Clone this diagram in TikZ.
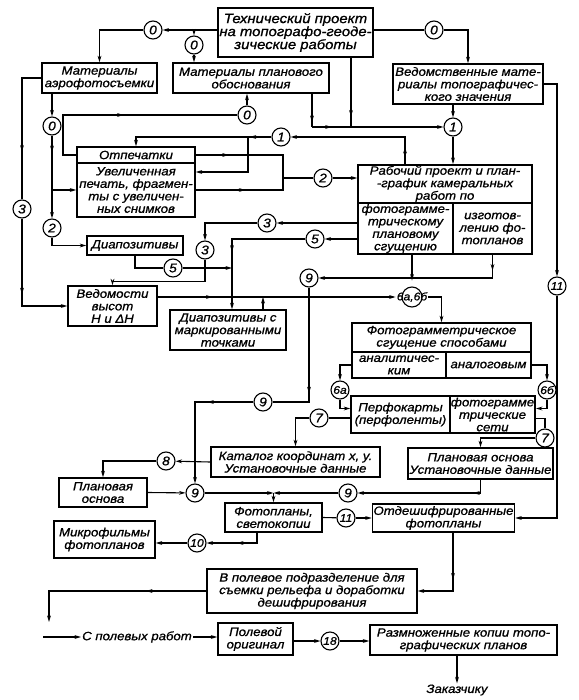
\documentclass[tikz,border=0pt]{standalone}
\usepackage{fontspec}
\setmainfont{Liberation Sans}[FakeStretch=1.1, FakeBold=1.0]
\usetikzlibrary{arrows.meta,decorations.markings}

\begin{document}
\begin{tikzpicture}[
    x=1pt, y=-1pt,
    font=\itshape\fontsize{12}{12.5}\selectfont,
    box/.style={rectangle, draw, line width=1.5pt, align=center, inner sep=1pt},
    num/.style={circle, draw, line width=1.1pt, minimum size=18pt, inner sep=0pt, font=\itshape\fontsize{12.5}{12.5}\selectfont},
    link/.style={line width=1.1pt},
    mid/.style={postaction={decorate, decoration={markings, mark=at position #1 with {\arrow{>}}}}},
    >={Stealth[length=6.5pt,width=3.8pt]}
]
\useasboundingbox (0,0) rectangle (578,700);

% boxes
\node[box, minimum width=155pt, minimum height=49pt, font=\itshape\fontsize{13.5}{13}\selectfont] (tech) at (295.5,32.5) {Технический проект\\на топографо-геоде-\\зические работы};
\node[box, minimum width=115pt, minimum height=30pt] (aero) at (99.5,78) {Материалы\\аэрофотосъемки};
\node[box, minimum width=156pt, minimum height=30pt] (plan) at (251,78) {Материалы планового\\обоснования};
\node[box, minimum width=150pt, minimum height=40pt] (vedm) at (468,84) {Ведомственные мате-\\риалы топографичес-\\кого значения};
\node[box, minimum width=118pt, minimum height=16pt] (prints) at (136,155) {Отпечатки};
\node[box, minimum width=118pt, minimum height=54pt] (enlarged) at (136,190) {Увеличенная\\печать, фрагмен-\\ты с увеличен-\\ных снимков};
\node[box, minimum width=174pt, minimum height=38pt] (work) at (445,184) {Рабочий проект и план-\\-график камеральных\\работ по};
\node[box, minimum width=95pt, minimum height=51pt] (workl) at (405.5,228.5) {фотограмме-\\трическому\\плановому\\сгущению};
\node[box, minimum width=79pt, minimum height=51pt] (workr) at (492.5,228.5) {изготов-\\лению фо-\\топланов};
\node[box, minimum width=96pt, minimum height=19pt] (diapos) at (135,245.5) {Диапозитивы};
\node[box, minimum width=89pt, minimum height=40pt] (heights) at (112.5,306) {Ведомости\\высот\\Н и ΔН};
\node[box, minimum width=116pt, minimum height=40pt] (marked) at (228,330) {Диапозитивы с\\маркированными\\точками};
\node[box, minimum width=179pt, minimum height=29pt] (phg) at (441.5,337.5) {Фотограмметрическое\\сгущение способами};
\node[box, minimum width=94pt, minimum height=26pt] (anal) at (399,365) {аналитичес-\\ким};
\node[box, minimum width=85pt, minimum height=26pt] (analog) at (488.5,365) {аналоговым};
\node[box, minimum width=99pt, minimum height=37pt] (perfo) at (400.5,414.5) {Перфокарты\\(перфоленты)};
\node[box, minimum width=85pt, minimum height=37pt] (nets) at (492.5,414.5) {фотограмме\\трические\\сети};
\node[box, minimum width=169pt, minimum height=30pt] (catalog) at (295.5,462) {Каталог координат х, у.\\Установочные данные};
\node[box, minimum width=145pt, minimum height=31pt] (planR) at (480.5,463.5) {Плановая основа\\Установочные данные};
\node[box, minimum width=88pt, minimum height=29pt] (planL) at (103,492.5) {Плановая\\основа};
\node[box, minimum width=97pt, minimum height=29pt] (photopl) at (273.5,517.5) {Фотопланы,\\светокопии};
\node[box, minimum width=137pt, minimum height=28pt] (decod) at (443.5,518) {Отдешифрированные\\фотопланы};
\node[box, minimum width=101pt, minimum height=37pt] (micro) at (104.5,539.5) {Микрофильмы\\фотопланов};
\node[box, minimum width=210pt, minimum height=44pt] (field) at (312,591) {В полевое подразделение для\\съемки рельефа и доработки\\дешифрирования};
\node[box, minimum width=75pt, minimum height=32pt] (fieldorig) at (255.5,639) {Полевой\\оригинал};
\node[box, minimum width=187pt, minimum height=30pt] (copies) at (463.5,640) {Размноженные копии топо-\\графических планов};
\node[inner sep=1pt] (fromfield) at (137,637) {С полевых работ};
\node[inner sep=1pt] (client) at (457,690) {Заказчику};

% circles
\node[num] (c0a) at (153,30) {0};
\node[num] (c0b) at (194,45) {0};
\node[num] (c0c) at (434,30) {0};
\node[num] (c0d) at (52,126) {0};
\node[num] (c0e) at (247,115) {0};
\node[num] (c1a) at (453,127) {1};
\node[num] (c1b) at (281,137) {1};
\node[num] (c2a) at (323,178) {2};
\node[num] (c2b) at (52,228) {2};
\node[num] (c3a) at (22,209) {3};
\node[num] (c3b) at (267,223) {3};
\node[num] (c3c) at (205,250) {3};
\node[num] (c5a) at (173,268) {5};
\node[num] (c5b) at (315,239) {5};
\node[num] (c9a) at (309,278) {9};
\node[num] (c9b) at (263,402) {9};
\node[num] (c9c) at (195,493) {9};
\node[num] (c9d) at (348,493) {9};
\node[num, draw=none, font=\itshape\fontsize{11}{11}\selectfont] (c6ab) at (412,297) {6а,6б};
\draw[line width=1.1pt] (c6ab) circle (10pt);
\node[num, font=\itshape\fontsize{11}{11}\selectfont] (c6a) at (340,390) {6а};
\node[num, font=\itshape\fontsize{11}{11}\selectfont] (c6b) at (547,390) {6б};
\node[num] (c7a) at (319,418) {7};
\node[num] (c7b) at (545,438) {7};
\node[num] (c8) at (166,461) {8};
\node[num, font=\itshape\fontsize{11}{11}\selectfont] (c10) at (197,543) {10};
\node[num, font=\itshape\fontsize{11}{11}\selectfont] (c11a) at (557,286) {11};
\node[num, font=\itshape\fontsize{11}{11}\selectfont] (c11b) at (346,518) {11};
\node[num, font=\itshape\fontsize{11}{11}\selectfont] (c18) at (330,641) {18};

% junctions
\coordinate (j1) at (351,127);
\coordinate (j2) at (312,127);
\coordinate (j3) at (405,137);
\coordinate (j4) at (248,137);
\coordinate (j5) at (248,172);
\coordinate (j7) at (283,178);
\coordinate (j8) at (232,268);
\coordinate (j9) at (263,297);
\coordinate (j10) at (273.5,493);
\coordinate (j11) at (63,115);
\coordinate (j13) at ([yshift=4pt]heights.north);
\coordinate (j15) at (257,543);
\coordinate (jd) at (453,590);
\coordinate (fout) at (49,622);
\coordinate (fin) at (43,637);

% top
\draw[link,->] (tech.west |- c0a) -- (c0a);
\draw[link,->] (c0a) -| (aero.north);
\draw[link,->] (c0b |- c0a) -- (c0b);
\draw[link,->] (c0b) -- (c0b |- plan.north);
\draw[link] (tech.east |- c0c) -- (c0c);
\draw[link,->] (c0c) -| (vedm.north);
\draw[link,mid=0.85] (tech.south -| j1) -- (j1);
\draw[link,mid=0.85] (plan.south -| j2) -- (j2);
\draw[link,->,mid=0.15] (j2) -- (c1a);
\draw[link,->] (vedm.south -| c1a) -- (c1a);
\draw[link,->] (c1a) -- (c1a |- work.north);
\draw[link,->,mid=0.12] (work.north -| j3) |- (c1b);
\draw[link,->,mid=0.15] (c1b) -| (prints.north);
\draw[link,->] (j4) |- (enlarged.east |- j5);
\draw[link,mid=0.3] (prints.east) -| (j7);
\draw[link,mid=0.5] (enlarged.east) -| (j7);
\draw[link] (j7) -- (c2a);
\draw[link,->] (c2a) -- (work.west |- c2a);

% left column
\draw[link,->] (aero.south -| c0d) -- (c0d);
\draw[link,->,mid=0.2] (c0d) -- (c2b);
\draw[link,->] (c0d |- enlarged.west) -- (enlarged.west);
\draw[link,mid=0.5] (prints.west) -| (j11) -- (c0e);
\draw[link,->] (c0e) -- (c0e |- plan.south);
\draw[link,mid=0.66] (aero.west) -| (c3a);
\draw[link,->,mid=0.57] (c3a) |- (heights.west);
\draw[link,->] (c2b) |- (diapos.west);
\draw[link] (diapos.south) |- (c5a);
\draw[link,->] (c5a) -- (j8);

% middle
\draw[link,->] (workl.west |- c3b) -- (c3b);
\draw[link,->] (c3b) -| (c3c);
\draw[link,->] (c3c) |- (j13) -- (heights.north);
\draw[link,->] (workl.west |- c5b) -- (c5b);
\draw[link,->,mid=0.6] (c5b) -| (marked.north -| j8);
\draw[link,->,mid=0.23] (heights.east |- c6ab) -- (c6ab);
\draw[link,->] (marked.north -| j9) -- (j9);
\draw[link,->,mid=0.08] (workr.south) |- (c9a);
\draw[link,->] (workl.south -| c6ab) -- (c6ab);
\draw[link,->] (c6ab) -| (phg.north);
\draw[link,mid=0.7] (c9a) |- (c9b);
\draw[link,->,mid=0.33] (c9b) -| (c9c);

% photogrammetric densification
\draw[link,->] (anal.west) -| (c6a);
\draw[link,->] (c6a) |- ([yshift=6pt]perfo.west);
\draw[link,->] (analog.east) -| (c6b);
\draw[link,->] (c6b) |- ([yshift=6pt]nets.east);
\draw[link] ([yshift=-4pt]nets.east) -| (c7b);
\draw[link,->] (c7b) -| (planR.north);
\draw[link] (perfo.west |- c7a) -- (c7a);
\draw[link,->] (c7a) -| (catalog.north);
\draw[link,->] (catalog.west) -- (c8);
\draw[link,->] (c8) -| (planL.north);
\draw[link,->] (planL.east) -- (c9c);
\draw[link,->] (c9c) -- (j10);
\draw[link,->] (c9d) -- (j10);
\draw[link,->] (j10) -- (photopl.north);
\draw[link,->,mid=0.15] (planR.south) |- (c9d);

% photoplans
\draw[link] (photopl.east) -- (c11b);
\draw[link,->] (c11b) -- (decod.west);
\draw[link,->,mid=0.5] (photopl.south -| j15) -- (j15) -- (c10);
\draw[link,->] (c10) -- (micro.east |- c10);
\draw[link,->] (vedm.east) -| (c11a);
\draw[link,->] (c11a) |- (decod.east);
\draw[link,->,mid=0.5] (decod.south -| jd) |- (field.east);
\draw[link,->,mid=0.32] (field.west) -| (fout);
\draw[link,->] (fin) -- (fromfield.west);
\draw[link,->] (fromfield.east) -- (fieldorig.west |- fromfield);
\draw[link,->] (fieldorig.east |- c18) -- (c18);
\draw[link,->] (c18) -- (copies.west |- c18);
\draw[link,->] (copies.south -| client) -- (client.north);

\end{tikzpicture}
\end{document}
